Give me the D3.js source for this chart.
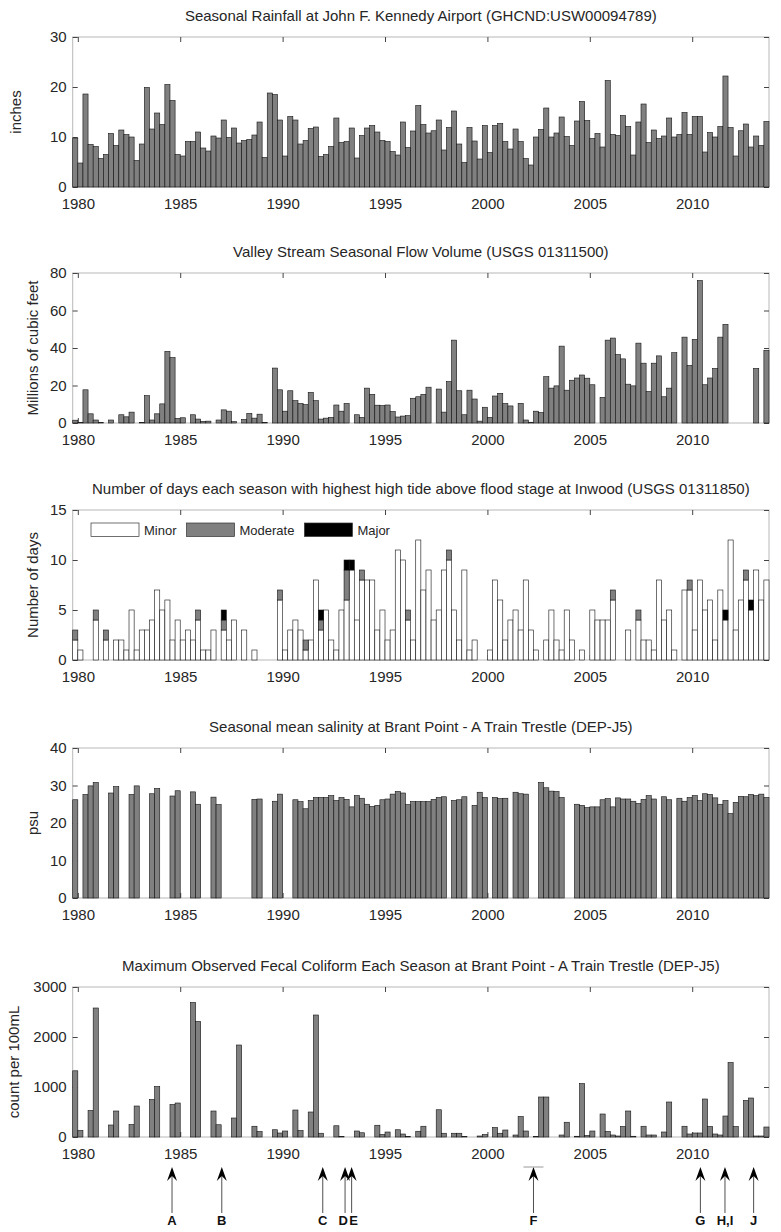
<!DOCTYPE html>
<html>
<head>
<meta charset="utf-8">
<title>Seasonal rainfall, flow, flooding, salinity and coliform</title>
<style>
body { margin: 0px; background: #fff; }
svg { font-family: "Liberation Sans", Arial, Helvetica, sans-serif; }
.box { fill: none; stroke: #b8b8b8; stroke-width: 1px; }
.bar { stroke: #111; stroke-width: 0.6px; }
.axis text { font-size: 15px; fill: #262626; font-family: "Liberation Sans", Arial, sans-serif; }
.axis line { stroke: #444; }
.title, .ylabel { font-size: 15px; fill: #262626; }
.legend text { font-size: 13px; fill: #262626; }
.event text { font-size: 13px; font-weight: bold; fill: #111; }
</style>
</head>
<body>
<svg width="781" height="1232"></svg>
<script src="https://d3js.org/d3.v7.min.js"></script>
<script>
// one bar per season, first one is winter 1979-80
var seasonStart = 1979.75;
var nSeasons = 136;

var titles = [
  "Seasonal Rainfall at John F. Kennedy Airport (GHCND:USW00094789)",
  "Valley Stream Seasonal Flow Volume (USGS 01311500)",
  "Number of days each season with highest high tide above flood stage at Inwood (USGS 01311850)",
  "Seasonal mean salinity at Brant Point - A Train Trestle (DEP-J5)",
  "Maximum Observed Fecal Coliform Each Season at Brant Point - A Train Trestle (DEP-J5)"
];
var yLabels = ["inches", "Millions of cubic feet", "Number of days", "psu", "count per 100mL"];
var yTicks = [[0, 10, 20, 30], [0, 20, 40, 60, 80], [0, 5, 10, 15], [0, 10, 20, 30, 40], [0, 1000, 2000, 3000]];
var xTickYears = [1980, 1985, 1990, 1995, 2000, 2005, 2010];

var rainfall = [9.8,4.8,18.6,8.5,8.1,5.7,6.5,10.7,8.3,11.4,
  10.5,10,5.3,8.6,19.9,11.6,14.8,12.5,20.5,17.3,
  6.5,6.2,9.1,9.1,11,7.8,7.2,10.2,9.8,13.4,
  9.9,11.8,8.8,9.3,9.5,10.4,13,5.9,18.8,18.5,
  13.4,6.2,14.1,13.4,8.6,9.3,11.7,12,6.1,6.5,
  8.1,13.8,8.9,9.1,11.8,5.8,10.3,11.8,12.3,11,
  9.3,9.1,7.1,6.4,13,7.9,11.2,16.3,12.5,10.8,
  11.25,13.4,7.4,11.9,15.2,8.6,4.9,11.9,9.2,5.6,
  12.3,6.9,12.3,12.7,9.1,7.6,11.6,9.1,5.7,4.4,
  10,11.5,15.8,10,10.8,14,10.1,8.3,13.2,17.1,
  13.3,9.7,10.7,8,21.3,10.5,10.3,14.3,12.1,6.4,
  13,16.6,8.9,11.4,9.7,10.2,13.8,10,10.5,14.9,
  10.5,14.1,14.1,7,10.9,10,12.1,22.2,11.9,6.2,
  11.25,12.6,8,10.2,8.3,13.1];

var flow = [1.5,0.2,17.7,4.9,1.6,0.2,null,1.6,null,4.4,
  3.3,5.8,null,0.2,14.6,1.6,4.9,10.2,38.2,34.9,
  2.5,2.8,null,4.4,2.1,0.9,1,null,1.6,7,
  6.3,0.7,null,1.9,5.1,2.6,4.7,0.2,null,29.3,
  17.7,6.3,17.2,11.9,10.4,9.8,16.3,11.9,2.1,2.6,
  3,9.6,6.3,10.4,null,4.4,3,18.6,15.3,9.5,
  9.3,9.6,6.1,3.2,3.7,3.9,13.2,14,15.3,19.1,
  null,18.1,5.8,22.1,44.2,17.2,4.4,17.5,12.8,1,
  8.4,3,14.4,15.8,10.4,9.1,null,10.5,1.6,0.4,
  6.3,5.6,24.7,18.6,19.8,41,17.5,22.8,24,25.6,
  23.9,20.4,null,13.7,44.2,45.3,36.5,34.2,20.7,19.8,
  42.6,31.9,16.8,31.9,35.8,14,18.6,37.5,null,45.8,
  30.7,44.6,76,20.4,24,29.1,45.8,52.6,null,null,
  null,null,null,29.1,null,38.8];

// days above flood stage, split by severity
var minorDays = [2,1,0,0,4,0,2,0,2,2,
  1,5,1,3,3,4,7,5,6,2,
  4,2,3,2,4,1,1,3,0,3,
  2,4,0,3,0,1,0,0,0,0,
  6,1,3,4,3,1,2,8,3,5,
  2,1,5,6,9,4,8,8,8,3,
  5,2,3,11,10,4,2,12,7,9,
  4,5,9,10,5,2,9,1,2,0,
  0,1,8,6,2,4,5,3,8,3,
  1,0,2,5,2,1,5,2,0,1,
  0,5,4,4,4,6,0,0,3,0,
  4,2,2,1,8,4,5,1,0,7,
  7,3,8,5,6,2,7,4,12,3,
  6,8,5,9,6,8];
var moderateDays = [1,0,0,0,1,0,1,0,0,0,
  0,0,0,0,0,0,0,0,0,0,
  0,0,0,0,1,0,0,0,0,1,
  0,0,0,0,0,0,0,0,0,0,
  1,0,0,0,0,1,0,0,1,0,
  0,0,0,3,0,0,1,0,0,0,
  0,0,0,0,0,1,0,0,0,0,
  0,0,0,1,0,0,0,0,0,0,
  0,0,0,0,0,0,0,0,0,0,
  0,0,0,0,0,0,0,0,0,0,
  0,0,0,0,0,1,0,0,0,0,
  1,0,0,0,0,0,0,0,0,0,
  1,0,0,0,0,0,0,0,0,0,
  0,1,0,0,0,0];
var majorDays = [0,0,0,0,0,0,0,0,0,0,
  0,0,0,0,0,0,0,0,0,0,
  0,0,0,0,0,0,0,0,0,1,
  0,0,0,0,0,0,0,0,0,0,
  0,0,0,0,0,0,0,0,1,0,
  0,0,0,1,1,0,0,0,0,0,
  0,0,0,0,0,0,0,0,0,0,
  0,0,0,0,0,0,0,0,0,0,
  0,0,0,0,0,0,0,0,0,0,
  0,0,0,0,0,0,0,0,0,0,
  0,0,0,0,0,0,0,0,0,0,
  0,0,0,0,0,0,0,0,0,0,
  0,0,0,0,0,0,0,1,0,0,
  0,0,1,0,0,0];
var severityKeys = ["Minor", "Moderate", "Major"];
var severityColors = ["#ffffff", "#808080", "#000000"];

var salinity = [26.2,null,27.6,29.9,30.8,null,null,28,29.7,null,
  null,27.6,29.9,null,null,27.8,29.2,null,null,27.2,
  28.6,null,null,28.3,25,null,null,26.9,24.9,null,
  null,null,null,null,null,26.3,26.4,null,null,25.8,
  27.7,null,null,26.2,25.7,23.8,26,26.8,26.8,26.8,
  27.3,26,26.8,26.3,24.3,27.3,26.6,25,24.4,24.7,
  26.2,26.4,27.7,28.4,28,24.9,25.7,25.7,25.7,25.7,
  26.3,26.8,27,null,26,26.2,27,null,24.7,28.2,
  26.8,null,26.8,26.5,26.6,null,28.2,27.8,27.7,null,
  null,30.8,29.4,28.5,28.4,26.8,null,null,25,24.7,
  24.1,24.3,24.3,26.2,26.5,24.3,26.7,26.4,26.4,25.8,
  25.2,26.3,27.3,26.4,null,27,26.2,null,26.6,25.8,
  26.8,27.3,26,27.8,27.6,26.7,25,26,22.5,25.5,
  27.1,27,27.6,27.3,27.7,26.8];

var coliform = [1324,130,null,530,2580,null,null,240,520,null,
  null,250,620,null,null,750,1010,null,null,650,
  680,null,null,2690,2310,null,null,520,245,null,
  null,380,1840,null,null,215,110,null,null,145,
  80,120,null,540,130,null,500,2440,75,null,
  null,225,10,null,null,120,85,null,null,235,
  50,100,null,145,60,10,null,115,215,null,
  null,545,75,null,75,75,10,null,null,20,
  50,null,190,75,140,null,40,410,120,null,
  10,800,800,null,null,40,295,null,15,1070,
  30,120,null,460,110,40,20,210,520,15,
  null,215,40,40,null,100,700,null,null,215,
  60,80,80,760,210,60,40,420,1490,210,
  null,730,780,20,20,200];

// storm events marked under the last panel
var eventYears = [1984.6, 1987.03, 1991.96, 1993.05, 1993.37, 2002.25, 2010.4, 2011.6, 2013.0];
var eventLabels = ["A", "B", "C", "D", "E", "F", "G", "H,I", "J"];

var svg = d3.select("svg");
var left = 72.7, right = 769, plotH = 150;
var tops = [37, 273, 510, 748, 987];
var ylabelX = [16, 33, 33, 33, 14];

var x = d3.scaleLinear().domain([seasonStart, seasonStart + nSeasons / 4]).range([left, right]);
var bw = x(seasonStart + 0.25) - x(seasonStart);
function sx(i) { return x(seasonStart + i * 0.25); }

function frame(k) {
  var g = svg.append("g").attr("transform", "translate(0," + tops[k] + ")");
  var y = d3.scaleLinear().domain([0, yTicks[k][yTicks[k].length - 1]]).range([plotH, 0]);

  g.append("rect").attr("class", "box")
    .attr("x", left).attr("y", 0).attr("width", right - left).attr("height", plotH);

  g.append("g").attr("class", "axis")
    .attr("transform", "translate(0," + plotH + ")")
    .call(d3.axisBottom(x).tickValues(xTickYears).tickFormat(d3.format("d")).tickSize(-5).tickPadding(11));
  g.append("g").attr("class", "axis")
    .call(d3.axisTop(x).tickValues(xTickYears).tickFormat("").tickSize(-5));
  g.append("g").attr("class", "axis")
    .attr("transform", "translate(" + left + ",0)")
    .call(d3.axisLeft(y).tickValues(yTicks[k]).tickFormat(d3.format("d")).tickSize(-5).tickPadding(6));
  g.append("g").attr("class", "axis")
    .attr("transform", "translate(" + right + ",0)")
    .call(d3.axisRight(y).tickValues(yTicks[k]).tickFormat("").tickSize(-5));
  g.selectAll(".domain").remove();
  g.selectAll(".axis").attr("font-size", null).attr("font-family", null);

  g.append("text").attr("class", "title")
    .attr("x", (left + right) / 2).attr("y", -16)
    .style("text-anchor", "middle")
    .text(titles[k]);

  g.append("text").attr("class", "ylabel")
    .attr("transform", "translate(" + ylabelX[k] + "," + plotH / 2 + ") rotate(-90)")
    .attr("dy", "0.35em")
    .style("text-anchor", "middle")
    .text(yLabels[k]);

  return { g: g, y: y };
}

function simpleBars(k, values) {
  var f = frame(k);
  var rows = values.map(function(v, i) { return { i: i, v: v }; })
    .filter(function(d) { return d.v != null; });
  f.g.selectAll(".bar")
    .data(rows)
    .enter()
    .append("rect")
    .attr("class", "bar")
    .attr("fill", "#808080")
    .attr("x", function(d) { return sx(d.i); })
    .attr("width", bw)
    .attr("y", function(d) { return f.y(d.v); })
    .attr("height", function(d) { return plotH - f.y(d.v); });
}

simpleBars(0, rainfall);
simpleBars(1, flow);

// stacked flood days
(function() {
  var f = frame(2);
  var rows = minorDays.map(function(v, i) {
    return { i: i, Minor: v, Moderate: moderateDays[i], Major: majorDays[i] };
  });
  var series = d3.stack().keys(severityKeys)(rows);
  series.forEach(function(s, j) {
    f.g.selectAll(".sev" + j)
      .data(s.filter(function(d) { return d[1] > d[0]; }))
      .enter()
      .append("rect")
      .attr("class", "bar sev" + j)
      .attr("fill", severityColors[j])
      .attr("x", function(d) { return sx(d.data.i); })
      .attr("width", bw)
      .attr("y", function(d) { return f.y(d[1]); })
      .attr("height", function(d) { return f.y(d[0]) - f.y(d[1]); });
  });

  var lg = f.g.append("g").attr("class", "legend").attr("transform", "translate(91,13)");
  var lx = 0;
  severityKeys.forEach(function(key, j) {
    lg.append("rect").attr("x", lx).attr("y", 0).attr("width", 48).attr("height", 13.5)
      .attr("fill", severityColors[j]).attr("stroke", "#333").attr("stroke-width", 0.7);
    var t = lg.append("text").attr("x", lx + 53).attr("y", 11.5).text(key);
    lx += 53 + t.node().getComputedTextLength() + 10;
  });
})();

simpleBars(3, salinity);
simpleBars(4, coliform);

// event arrows
var tipY = 1167, tailY = 1213;
var ev = svg.append("g").attr("class", "event");
eventYears.forEach(function(yr, i) {
  var ex = x(yr);
  ev.append("line").attr("x1", ex).attr("x2", ex).attr("y1", tipY + 9).attr("y2", tailY)
    .attr("stroke", "#222").attr("stroke-width", 0.8);
  ev.append("path")
    .attr("d", "M" + ex + "," + tipY + "L" + (ex + 5) + "," + (tipY + 14) +
      "L" + ex + "," + (tipY + 9) + "L" + (ex - 5) + "," + (tipY + 14) + "Z")
    .attr("fill", "#000");
  if (eventLabels[i] == "F") {
    ev.append("line").attr("x1", ex - 10).attr("x2", ex + 10).attr("y1", tipY).attr("y2", tipY)
      .attr("stroke", "#999").attr("stroke-width", 1);
  }
  var shift = eventLabels[i] == "D" ? -2 : (eventLabels[i] == "E" ? 2 : 0);
  ev.append("text").attr("x", ex + shift).attr("y", 1225)
    .style("text-anchor", "middle")
    .text(eventLabels[i]);
});
</script>
</body>
</html>
